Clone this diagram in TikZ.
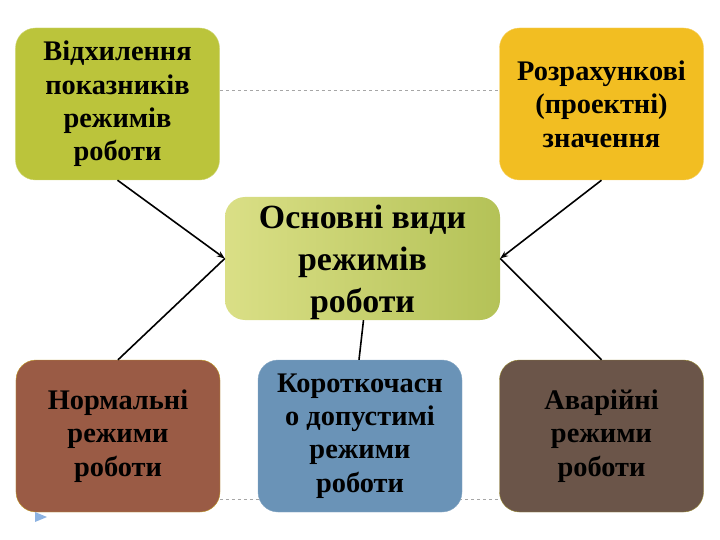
\documentclass[tikz,border=0pt]{standalone}
\usepackage{fontspec}
\setmainfont{Liberation Serif}
\usetikzlibrary{arrows.meta, positioning, calc}
\definecolor{olive}{HTML}{BBC43B}
\definecolor{gold}{HTML}{F2BE22}
\definecolor{hubl}{HTML}{DADF86}
\definecolor{hubr}{HTML}{B4C257}
\definecolor{clay}{HTML}{9A5B45}
\definecolor{steel}{HTML}{6A93B7}
\definecolor{umber}{HTML}{6B5549}
\definecolor{tick}{HTML}{8DB3E2}

\begin{document}
\begin{tikzpicture}[
    x=1bp, y=-1bp,
    modebox/.style={rounded corners=20bp, minimum width=204bp, minimum height=152bp,
                    align=center, font=\bfseries\fontsize{28.5}{33.5}\selectfont, inner sep=0pt},
    hubbox/.style={rounded corners=20bp, minimum width=275bp, minimum height=123bp,
                   inner sep=0pt, left color=hubl, right color=hubr},
    hubtext/.style={align=center, font=\bfseries\fontsize{34}{42}\selectfont},
    guide/.style={draw=black!35, dashed, line width=0.6bp},
    link/.style={line width=1.6bp},
    >={Stealth[length=8bp, width=6bp]}
]
\useasboundingbox (0,0) rectangle (720,540);

% dashed guide lines behind the boxes
\draw[guide] (220,90) -- (500,90);
\draw[guide] (220,499) -- (500,499);

\node[hubbox] (hub) at (362.5,258.5) {};
\node[hubtext] (hubtxt) at ([yshift=-4bp]hub.center) {Основні види\\режимів\\роботи};

\node[modebox, fill=olive, draw=olive!70!white] (dev) at (117.5,104) {Відхилення\\показників\\режимів\\роботи};
\node[modebox, fill=gold, draw=gold!70!white] (calc) at (601.5,104) {Розрахункові\\(проектні)\\значення};

\node[modebox, fill=clay, draw=clay!60!yellow] (norm) at (118,436) {Нормальні\\режими\\роботи};
\node[modebox, fill=steel, draw=steel!80!white] (short) at (360,436) {Короткочасн\\о допустимі\\режими\\роботи};
\node[modebox, fill=umber, draw=umber!70!yellow] (fail) at (601.5,436) {Аварійні\\режими\\роботи};

\draw[->, link] (dev.south)  -- (hub.west);
\draw[->, link] (calc.south) -- (hub.east);
\draw[link] (hub.west) -- (norm.north);
\draw[link] (hub.east) -- (fail.north);
\draw[link] ([xshift=1bp]hub.south) -- ([xshift=-1bp]short.north);

% small marker in the corner
\fill[tick] (35,512) -- (47,517) -- (35,522) -- cycle;
\end{tikzpicture}
\end{document}
